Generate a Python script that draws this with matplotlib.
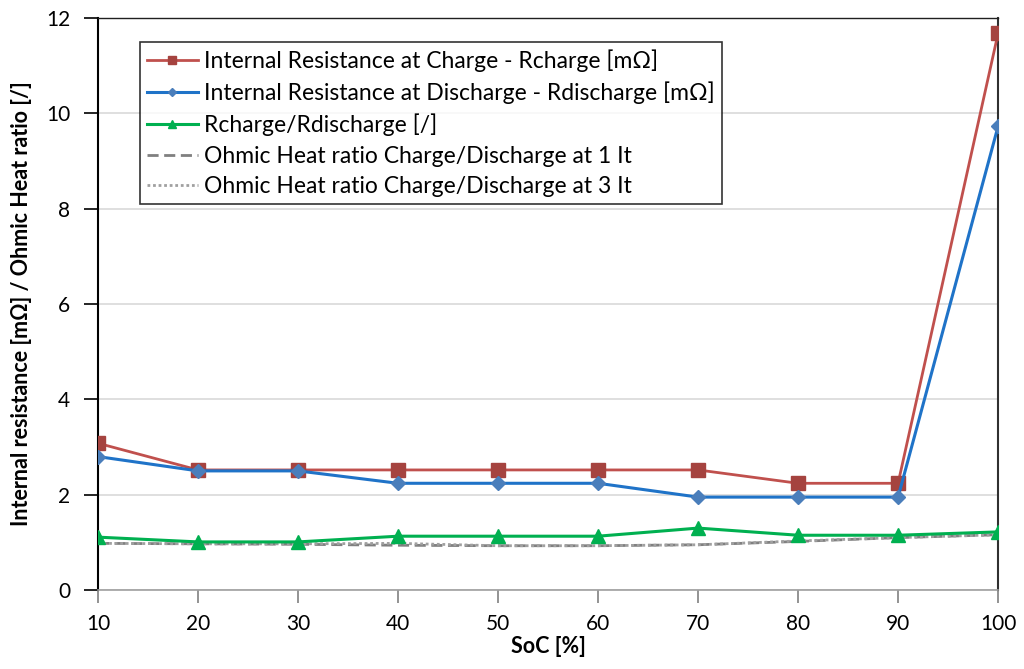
import numpy as np
import matplotlib.pyplot as plt

soc = [10, 20, 30, 40, 50, 60, 70, 80, 90, 100]
r_charge = [3.08, 2.52, 2.52, 2.52, 2.52, 2.52, 2.52, 2.24, 2.24, 11.68]
r_discharge = [2.80, 2.50, 2.50, 2.24, 2.24, 2.24, 1.95, 1.95, 1.95, 9.73]
r_ratio = [1.11, 1.01, 1.01, 1.13, 1.13, 1.13, 1.30, 1.15, 1.15, 1.22]
heat_1it = [0.98, 0.97, 0.96, 0.94, 0.93, 0.93, 0.95, 1.02, 1.10, 1.16]
heat_3it = [0.98, 0.97, 0.97, 0.98, 0.93, 0.93, 0.95, 1.03, 1.10, 1.16]

plt.rcParams['font.family'] = ['Lato', 'DejaVu Sans']

fig = plt.figure(figsize=(10.24, 6.69), dpi=100)
ax = fig.add_axes([0.0957, 0.118, 0.879, 0.855])

ax.plot(soc, heat_1it, color='#808080', lw=2, ls=(0, (4, 2)),
        label='Ohmic Heat ratio Charge/Discharge at 1 It', zorder=2)
ax.plot(soc, heat_3it, color='#a0a0a0', lw=2, ls=(0, (1, 1)),
        label='Ohmic Heat ratio Charge/Discharge at 3 It', zorder=2)
ax.plot(soc, r_charge, color='#c0504d', lw=2, marker='s', ms=10,
        mfc='#a5433f', mec='#a5433f',
        label='Internal Resistance at Charge - Rcharge [m\u03a9]', zorder=3)
ax.plot(soc, r_discharge, color='#1f73c8', lw=2.2, marker='D', ms=7,
        mfc='#4a7ebb', mec='#4a7ebb',
        label='Internal Resistance at Discharge - Rdischarge [m\u03a9]', zorder=4)
ax.plot(soc, r_ratio, color='#00b050', lw=2.2, marker='^', ms=10,
        label='Rcharge/Rdischarge [/]', zorder=5)

ax.set_xlim(10, 100)
ax.set_ylim(0, 12)
ax.set_xticks(soc)
ax.set_yticks(np.arange(0, 13, 2))
ax.yaxis.grid(True, color='#d9d9d9', lw=1.2)
ax.set_axisbelow(True)

ax.spines['top'].set_color('#202020')
ax.spines['top'].set_linewidth(1.0)
ax.spines['left'].set_color('black')
ax.spines['left'].set_linewidth(1.5)
ax.spines['right'].set_color('#303030')
ax.spines['right'].set_linewidth(1.5)
ax.spines['bottom'].set_color('#a0a0a0')
ax.spines['bottom'].set_linewidth(1.2)
ax.tick_params(axis='x', colors='#808080', length=9, width=1.2, labelcolor='black',
               labelsize=15, pad=8)
ax.tick_params(axis='y', length=10, width=1.2, labelsize=15, pad=10)

ax.set_xlabel('SoC [%]', fontsize=15.5, fontweight='bold', labelpad=2)
ax.set_ylabel('Internal resistance [m\u03a9] / Ohmic Heat ratio [/]', fontsize=15.5,
              fontweight='bold', labelpad=10)

handles, labels = ax.get_legend_handles_labels()
order = [2, 3, 4, 0, 1]
leg = ax.legend([handles[i] for i in order], [labels[i] for i in order],
                loc='upper left', bbox_to_anchor=(0.047, 0.958), borderaxespad=0,
                fontsize=16.5, frameon=True, fancybox=False, edgecolor='black',
                handlelength=2.2, handletextpad=0.3, labelspacing=0.42,
                borderpad=0.3, markerscale=0.6)
leg.get_frame().set_linewidth(1.2)

fig.savefig('out.png', dpi=100)
